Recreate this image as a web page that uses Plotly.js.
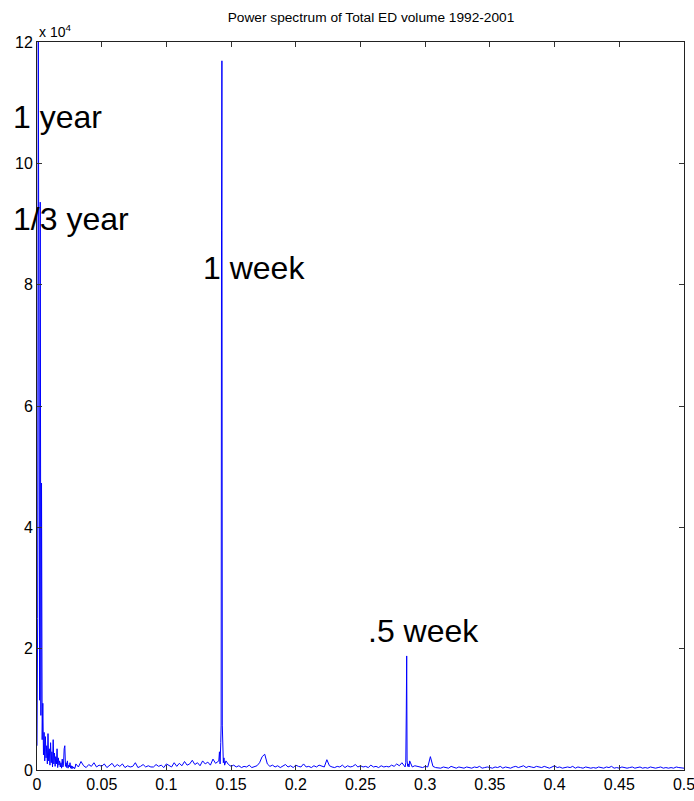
<!DOCTYPE html>
<html>
<head>
<meta charset="utf-8">
<script src="https://cdn.plot.ly/plotly-3.0.1.min.js"></script>
<style>html,body{margin:0;padding:0;background:#fff;}#chart{width:694px;height:801px;}</style>
</head>
<body>
<div id="chart"></div>
<script>
// Units: power in 10^4
// Low-frequency part, frequency grid step 0.0005 starting at 0
var lowStep = 0.0005;
var lowPow = [0.4,2.5,12.4,1.6,1.15,9.36,0.9,4.73,0.5,1.1,
  0.25,0.62,0.15,0.55,0.2,0.4,0.1,0.6,0.15,0.35,
  0.08,0.45,0.12,0.3,0.05,0.5,0.1,0.28,0.06,0.22,
  0.1,0.35,0.04,0.2,0.08,0.15,0.05,0.12,0.03,0.18,
  0.05,0.1,0.35,0.4,0.06,0.12,0.04,0.15,0.03,0.08,
  0.05,0.12,0.03,0.07,0.02,0.06,0.03,0.05,0.02,0.04];
// Rest of the spectrum, frequency grid step 0.002 starting at 0.030
var gridStart = 0.03, gridStep = 0.002;
var gridPow = [
  0.10,0.05,0.14,0.07,0.04,0.09,0.06,0.12,0.05,0.08,
  0.06,0.10,0.04,0.08,0.11,0.05,0.09,0.06,0.10,0.04,
  0.07,0.05,0.06,0.12,0.04,0.06,0.09,0.05,0.07,0.05,
  0.05,0.09,0.06,0.08,0.04,0.10,0.07,0.05,0.12,0.06,
  0.11,0.07,0.14,0.08,0.10,0.16,0.09,0.12,0.07,0.15,
  0.10,0.13,0.08,0.18,0.11,0.25,0.20,0.22,0.15,0.09,
  0.06,0.08,0.05,0.07,0.04,0.06,0.05,0.08,0.04,0.06,
  0.07,0.12,0.22,0.26,0.10,0.06,0.08,0.05,0.07,0.04,
  0.06,0.09,0.05,0.07,0.04,0.08,0.06,0.05,0.10,0.05,
  0.06,0.04,0.07,0.05,0.08,0.06,0.05,0.17,0.07,0.05,
  0.04,0.06,0.05,0.08,0.04,0.07,0.05,0.06,0.09,0.05,
  0.07,0.05,0.06,0.04,0.08,0.05,0.06,0.04,0.07,0.05,
  0.06,0.05,0.08,0.06,0.10,0.07,0.12,0.09,0.15,0.08,
  0.05,0.07,0.06,0.05,0.04,0.06,0.05,0.22,0.06,0.04,
  0.04,0.03,0.05,0.04,0.03,0.06,0.04,0.03,0.05,0.04,
  0.03,0.05,0.04,0.03,0.05,0.04,0.06,0.03,0.04,0.05,
  0.04,0.03,0.05,0.04,0.06,0.03,0.05,0.04,0.03,0.05,
  0.06,0.04,0.05,0.07,0.04,0.06,0.05,0.04,0.06,0.05,
  0.04,0.06,0.05,0.03,0.05,0.07,0.04,0.05,0.03,0.04,
  0.05,0.04,0.06,0.03,0.05,0.04,0.03,0.05,0.04,0.03,
  0.04,0.03,0.05,0.04,0.03,0.05,0.04,0.06,0.03,0.04,
  0.03,0.05,0.04,0.03,0.04,0.05,0.03,0.04,0.05,0.03,
  0.04,0.03,0.05,0.04,0.03,0.04,0.05,0.03,0.04,0.03,
  0.04,0.03,0.05,0.04,0.03,0.03];
// Weekly peak
var weekFreq = [0.1405,0.141,0.1415,0.142,0.1423,0.1426,0.1429,0.1432,0.1435,0.144,0.1445,0.145];
var weekPow  = [0.15,0.3,0.1,0.45,0.74,8.9,11.69,0.74,0.3,0.12,0.2,0.08];
// Half-week peak
var halfFreq = [0.2845,0.285,0.2854,0.2857,0.286,0.2865,0.287,0.2875,0.288];
var halfPow  = [0.05,0.12,0.99,1.88,0.15,0.06,0.1,0.05,0.15];
// Axis ticks
var xTicks = [0,0.05,0.1,0.15,0.2,0.25,0.3,0.35,0.4,0.45,0.5];
var xTickText = ['0','0.05','0.1','0.15','0.2','0.25','0.3','0.35','0.4','0.45','0.5'];
var yTicks = [0,2,4,6,8,10,12];

var pts = [];
lowPow.forEach(function(v,i){ pts.push([+(i*lowStep).toFixed(5), v]); });
gridPow.forEach(function(v,i){
  var f = +(gridStart + i*gridStep).toFixed(4);
  if (f > 0.1395 && f < 0.1455) return;
  if (f > 0.2835 && f < 0.2885) return;
  pts.push([f, v]);
});
weekFreq.forEach(function(f,i){ pts.push([f, weekPow[i]]); });
halfFreq.forEach(function(f,i){ pts.push([f, halfPow[i]]); });
pts.sort(function(a,b){ return a[0]-b[0]; });

var freq = pts.map(function(p){return p[0];});
var power = pts.map(function(p){return p[1];});

var narrow = '"Liberation Sans Narrow", "Arial Narrow", "Liberation Sans", Arial, sans-serif';
var big = '"Liberation Sans", Arial, sans-serif';

var axisCommon = {
  showline: true, mirror: 'ticks', linecolor: '#222', linewidth: 1,
  ticks: 'inside', ticklen: 5, tickcolor: '#333', tickwidth: 1,
  showgrid: false, zeroline: false, ticklabeloverflow: 'allow',
  tickfont: {family: narrow, size: 16, color: '#000'}
};

var layout = {
  width: 694, height: 801,
  margin: {l: 37, r: 10, t: 42, b: 31},
  paper_bgcolor: '#fff', plot_bgcolor: '#fff',
  showlegend: false,
  title: {text: 'Power spectrum of Total ED volume 1992-2001',
    font: {family: narrow, size: 13.7, color: '#000'},
    x: 371/694, xref: 'container', xanchor: 'center', y: 0.978, yanchor: 'middle'},
  xaxis: Object.assign({}, axisCommon, {range: [0, 0.5], tickmode: 'array', tickvals: xTicks, ticktext: xTickText}),
  yaxis: Object.assign({}, axisCommon, {range: [0, 12], tickmode: 'array', tickvals: yTicks}),
  annotations: [
    {text: 'x 10<sup>4</sup>', xref: 'paper', yref: 'paper', x: 0, y: 1, xanchor: 'left', yanchor: 'bottom',
     showarrow: false, font: {family: narrow, size: 14, color: '#000'}},
    {text: '1 year', xref: 'paper', yref: 'y', x: -0.04, y: 10.76, xanchor: 'left', yanchor: 'middle',
     showarrow: false, font: {family: big, size: 32, color: '#000'}},
    {text: '1/3 year', xref: 'paper', yref: 'y', x: -0.04, y: 9.08, xanchor: 'left', yanchor: 'middle',
     showarrow: false, font: {family: big, size: 32, color: '#000'}},
    {text: '1 week', xref: 'x', yref: 'y', x: 0.1265, y: 8.27, xanchor: 'left', yanchor: 'middle',
     showarrow: false, font: {family: big, size: 32, color: '#000'}},
    {text: '.5 week', xref: 'x', yref: 'y', x: 0.2545, y: 2.29, xanchor: 'left', yanchor: 'middle',
     showarrow: false, font: {family: big, size: 32, color: '#000'}}
  ]
};

Plotly.newPlot('chart', [{
  x: freq, y: power, type: 'scatter', mode: 'lines',
  line: {color: '#0000ff', width: 1}, cliponaxis: true, hoverinfo: 'skip'
}], layout, {staticPlot: true, displayModeBar: false});
</script>
</body>
</html>
